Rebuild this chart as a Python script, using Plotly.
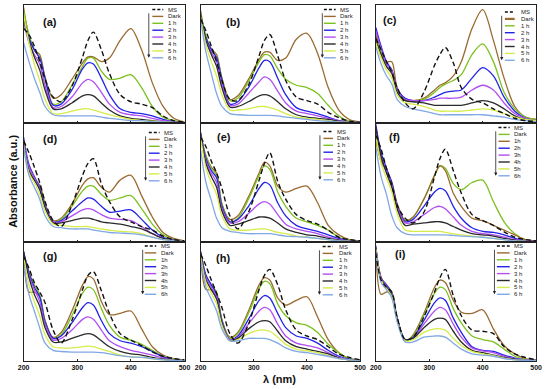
import plotly.graph_objects as go

# ---------------- data (absorbance, % of panel height) ----------------
WL = [200, 210, 220, 230, 240, 255, 270, 290, 310, 320, 330, 345, 360, 380, 400, 420, 440, 460, 480, 500]
SERIES = ["MS", "Dark", "1h", "2h", "3h", "4h", "5h", "6h"]
LABELS_SPACE = ["MS", "Dark", "1 h", "2 h", "3 h", "4 h", "5 h", "6 h"]
LABELS_NOSPACE = ["MS", "Dark", "1h", "2h", "3h", "4h", "5h", "6h"]
PANEL_NAMES = ["(a)", "(b)", "(c)", "(d)", "(e)", "(f)", "(g)", "(h)", "(i)"]
X_TICKS = [200, 300, 400, 500]

PANEL_A = {
    "MS":   [80, 75, 65, 52, 37, 22, 18, 31, 56, 70, 77, 62, 42, 24, 18, 16, 13, 6, 2, 1],
    "Dark": [98, 73, 62, 58, 39, 21, 24, 37, 51, 56, 56, 52, 55, 70, 80, 62, 34, 14, 4, 1],
    "1h":   [95, 75, 62, 55, 38, 16, 18, 32, 48, 55, 55, 44, 37, 38, 41, 30, 14, 5, 2, 1],
    "2h":   [88, 72, 62, 55, 38, 15, 16, 28, 46, 51, 50, 38, 24, 12, 9, 8, 6, 3, 1, 0.5],
    "3h":   [86, 68, 58, 50, 32, 13, 14, 22, 34, 37, 35, 26, 16, 9, 7, 6, 4, 2, 1, 0.5],
    "4h":   [90, 70, 56, 45, 28, 12, 12, 17, 23, 24, 23, 17, 11, 6, 4, 3, 2, 1, 0.5, 0],
    "5h":   [92, 68, 50, 36, 20, 8, 8, 10, 12, 12, 11, 9, 7, 5, 3, 2, 1.5, 1, 0.5, 0],
    "6h":   [68, 52, 38, 26, 14, 7, 6, 6, 6, 6, 6, 5, 4, 3, 2, 2, 1, 1, 0.5, 0],
}
PANEL_B = {
    "MS":   [88, 78, 65, 52, 36, 20, 19, 32, 57, 70, 75, 57, 36, 22, 19, 16, 9, 4.5, 1.5, 0.5],
    "Dark": [95, 72, 63, 58, 38, 20, 23, 37, 54, 60, 60, 53, 55, 71, 76, 59, 30, 11, 3, 1],
    "1h":   [92, 74, 62, 56, 38, 19, 21, 35, 52, 58, 57, 46, 37, 32, 30, 25, 15, 6, 1.5, 0.5],
    "2h":   [90, 72, 62, 55, 37, 16, 18, 30, 47, 53, 52, 38, 24, 13, 10, 8, 5, 2, 1, 0.5],
    "3h":   [88, 70, 60, 52, 33, 15, 16, 25, 35, 39, 37, 27, 17, 10, 8, 6, 4, 2, 1, 0.5],
    "4h":   [92, 70, 58, 48, 30, 13.5, 14, 18, 23, 24, 23, 18, 12, 7, 5, 4, 3, 1.5, 0.5, 0],
    "5h":   [90, 66, 52, 40, 24, 11, 11, 12, 14, 14, 13, 11, 8, 5, 4, 3, 2, 1, 0.5, 0],
    "6h":   [88, 60, 42, 25, 14, 8, 7, 6.5, 6.5, 6.5, 6.5, 6, 5, 4, 3, 2, 1.5, 1, 0.5, 0],
}
PANEL_C = {
    "MS":   [72, 62, 52, 43, 30, 17, 12, 26, 49, 58, 64, 51, 30, 20, 17, 12, 8, 4, 2, 1],
    "Dark": [75, 62, 52, 52, 30, 20, 19, 21, 28, 32, 34, 40, 52, 80, 96, 70, 38, 14, 5, 3],
    "1h":   [72, 60, 50, 45, 28, 20, 19, 20, 26, 30, 33, 36, 41, 58, 67, 52, 26, 12, 5, 3],
    "2h":   [81, 65, 52, 45, 29, 21, 19, 19, 22, 24, 26, 27, 28, 38, 47, 40, 22, 10, 4, 2],
    "3h":   [78, 63, 50, 44, 28, 20, 19, 19, 20, 21, 21, 21, 22, 28, 32, 28, 17, 8, 4, 2],
    "4h":   [70, 58, 48, 42, 26, 19, 18, 17, 15, 15, 15, 15, 15, 17, 19, 17, 12, 6, 3, 2],
    "5h":   [68, 55, 45, 38, 24, 17, 16, 14, 11, 10, 10, 10, 10, 11, 12, 11, 8, 5, 3, 2],
    "6h":   [65, 50, 40, 33, 20, 14, 12, 10, 8, 7, 7, 7, 7, 7, 7, 6, 5, 3, 2, 1],
}
PANEL_D = {
    "MS":   [85, 75, 63, 50, 34, 18, 13, 31, 56, 66, 70, 49, 34, 21, 17, 13, 10, 5, 2, 1],
    "Dark": [85, 58, 52, 48, 32, 18, 20, 32, 48, 53, 54, 46, 42, 52, 56, 39, 21, 8, 3, 1],
    "1h":   [84, 62, 54, 47, 32, 17, 19, 30, 43, 47, 47, 40, 35, 37, 39, 28, 15, 6, 2, 1],
    "2h":   [88, 65, 55, 46, 31, 17, 18, 26, 34, 37, 36, 30, 25, 26, 27, 19, 10, 4, 1.5, 0.5],
    "3h":   [86, 63, 54, 45, 30, 17, 17, 22, 27, 28, 27, 23, 20, 19, 18, 13, 7, 3, 1, 0.5],
    "4h":   [84, 60, 52, 44, 29, 16, 16, 18, 20, 20, 19, 17, 16, 15, 13, 11, 7, 3, 1, 0.5],
    "5h":   [82, 58, 50, 40, 26, 15, 14, 13, 13, 13, 12, 11, 10, 9, 8.5, 7, 4, 2, 1, 0.5],
    "6h":   [80, 56, 46, 36, 22, 13, 12, 11, 11, 11, 10, 9, 8, 7.5, 7, 6, 4, 2, 1, 0.5],
}
PANEL_E = {
    "MS":   [88, 80, 68, 58, 45, 22, 11, 25, 52, 66, 75, 51, 36, 23, 18, 15, 10, 4, 2, 1],
    "Dark": [90, 72, 63, 58, 32, 19, 22, 38, 58, 67, 64, 47, 42, 45, 47, 33, 14, 6, 2, 1],
    "1h":   [92, 72, 62, 56, 32, 17, 20, 36, 56, 64, 61, 42, 30, 20, 17, 14, 10, 4, 1.5, 0.5],
    "2h":   [92, 70, 60, 54, 30, 17, 19, 30, 45, 50, 48, 33, 22, 14, 11, 9, 6, 3, 1, 0.5],
    "3h":   [90, 68, 58, 50, 28, 16, 17, 24, 32, 34, 32, 23, 15, 11, 9, 7, 4, 2, 1, 0.5],
    "4h":   [90, 66, 55, 46, 26, 14, 15, 18, 21, 21, 20, 16, 11, 8, 6, 5, 3, 1.5, 0.5, 0],
    "5h":   [88, 62, 50, 40, 22, 11, 10, 10, 11, 11, 10, 8, 7, 5, 4, 3, 2, 1, 0.5, 0],
    "6h":   [77, 50, 35, 20, 12, 9, 8, 7, 7, 7, 7, 6, 5, 4.5, 4, 3, 2, 1, 0.5, 0],
}
PANEL_F = {
    "MS":   [90, 78, 62, 48, 31, 20, 16, 25, 55, 70, 78, 60, 41, 23, 18, 14, 8.5, 4, 2, 1],
    "Dark": [85, 68, 60, 50, 32, 18, 21, 36, 56, 64, 62, 49, 44, 50, 52, 34, 17, 7, 2, 1],
    "1h":   [88, 68, 60, 50, 32, 18, 21, 36, 56, 64, 60, 41, 30, 20, 18, 14, 10, 6, 2, 1],
    "2h":   [99, 75, 62, 50, 31, 17, 19, 30, 42, 45, 43, 30, 20, 12, 9, 8, 6, 3, 1, 0.5],
    "3h":   [95, 72, 60, 48, 30, 16, 17, 23, 29, 30, 28, 21, 14, 9, 7, 6, 4, 2, 1, 0.5],
    "4h":   [97, 72, 58, 46, 28, 14, 15, 16, 17, 17, 16, 13, 10, 7, 6, 5, 3, 1.5, 0.5, 0],
    "5h":   [90, 66, 54, 42, 24, 10, 9, 9, 9, 9, 8, 7, 6, 5, 4, 3, 2, 1, 0.5, 0],
    "6h":   [80, 55, 40, 22, 12, 7, 6, 6, 6, 6, 6, 5.5, 5, 4.5, 4, 3, 2, 1, 0.5, 0],
}
PANEL_G = {
    "MS":   [88, 78, 66, 58, 49, 26, 15, 34, 60, 72, 75, 59, 40, 23, 17.5, 13, 7.6, 4, 2, 1],
    "Dark": [92, 58, 58, 54, 34, 20, 24, 42, 64, 71, 69, 50, 39, 40, 42, 27, 12, 5, 2, 1],
    "1h":   [90, 75, 64, 56, 34, 19, 22, 38, 57, 62, 60, 44, 30, 20, 17.5, 14, 9, 4, 1.5, 0.5],
    "2h":   [92, 74, 62, 54, 33, 19, 21, 32, 45, 49, 47, 34, 23, 17, 15, 12, 8, 3.5, 1, 0.5],
    "3h":   [90, 72, 60, 50, 31, 17.5, 19, 26, 35, 37, 35, 26, 17, 12, 9, 7, 5, 2.5, 1, 0.5],
    "4h":   [92, 70, 56, 46, 28, 16, 16, 19, 22, 23, 22, 17, 12, 8, 6, 5, 3, 1.5, 0.5, 0],
    "5h":   [88, 64, 50, 38, 22, 12, 11, 11, 12, 12.5, 12, 10, 8, 5, 3.5, 3, 2, 1, 0.5, 0],
    "6h":   [82, 56, 42, 28, 15, 9, 8, 7.5, 7.5, 7.5, 7.5, 7, 6, 4.5, 3.5, 3, 2, 1, 0.5, 0],
}
PANEL_H = {
    "MS":   [90, 80, 68, 57, 45, 23, 15, 31, 60, 72, 77, 64, 43, 26, 21, 18, 12, 5.7, 3, 1],
    "Dark": [92, 60, 60, 56, 34, 20, 24, 42, 64, 70, 68, 53, 47, 51, 54, 37, 18, 7, 2, 1],
    "1h":   [90, 72, 64, 58, 35, 19, 23, 40, 61, 67, 65, 48, 38, 32, 30, 24, 14, 7, 2, 1],
    "2h":   [92, 72, 64, 56, 34, 18, 21, 35, 51, 55, 53, 40, 28, 21, 19, 15, 9, 4, 1.5, 0.5],
    "3h":   [90, 70, 62, 54, 33, 18, 20, 31, 42, 45, 43, 31, 21, 15, 13, 11, 7, 3, 1, 0.5],
    "4h":   [90, 68, 60, 52, 32, 17, 19, 27, 33, 34, 33, 25, 17, 12, 10, 8, 6, 2.5, 1, 0.5],
    "5h":   [88, 66, 57, 48, 30, 17, 18, 23, 26, 26, 25, 20, 14, 10, 8.5, 7, 4.5, 2, 1, 0.5],
    "6h":   [85, 62, 52, 42, 27, 17, 17, 19, 19, 19, 18, 15, 11, 8, 7, 5.5, 4, 2, 1, 0.5],
}
PANEL_I = {
    "MS":   [91, 68, 62, 58, 37, 18, 20, 37, 58, 70, 77, 55, 38, 26, 25, 23, 12, 6, 3, 1],
    "Dark": [95, 56, 58, 57, 36, 17, 22, 40, 62, 68, 66, 51, 41, 40, 43, 27, 13, 6, 2, 1],
    "1h":   [96, 70, 64, 58, 36, 18, 21, 38, 57, 62, 60, 44, 32, 21, 18, 16, 10, 4, 1.5, 0.5],
    "2h":   [97, 70, 64, 57, 36, 18, 20, 34, 49, 53, 51, 36, 24, 12, 9, 8, 5, 2.5, 1, 0.5],
    "3h":   [96, 70, 63, 56, 35, 18, 19, 31, 42, 45, 43, 31, 20, 11, 8.5, 7, 4, 2, 1, 0.5],
    "4h":   [95, 69, 62, 55, 35, 18, 19, 28, 35, 36, 35, 25, 16, 9, 7, 5, 3, 1.5, 0.5, 0],
    "5h":   [94, 68, 61, 54, 34, 17, 18, 24, 27, 27, 26, 19, 13, 8, 6, 4.5, 2.5, 1, 0.5, 0],
    "6h":   [92, 66, 60, 53, 33, 16, 16, 20, 21, 21, 20, 15, 10, 6, 5, 4, 2, 1, 0.5, 0],
}
PANELS = [PANEL_A, PANEL_B, PANEL_C, PANEL_D, PANEL_E, PANEL_F, PANEL_G, PANEL_H, PANEL_I]
PANEL_LABELS = [LABELS_SPACE, LABELS_SPACE, LABELS_SPACE, LABELS_SPACE, LABELS_SPACE,
                LABELS_NOSPACE, LABELS_NOSPACE, LABELS_SPACE, LABELS_SPACE]

# ---------------- styles ----------------
W, H = 550, 389
FONT = "Liberation Sans, Arial, sans-serif"
COLORS = {"MS": "#111111", "Dark": "#9a6a30", "1h": "#7cc11f", "2h": "#2323e6",
          "3h": "#b24df2", "4h": "#2a2a2a", "5h": "#d6ec4a", "6h": "#80a8e4"}
COLORS_F = dict(COLORS, Dark="#7cc11f")
COLORS_F["1h"] = "#9a6a30"
MS_DASH = "5px,3px"

COL_LEFT = [18, 199, 378]
COL_W = [164.5, 163, 164]
ROW_TOP = [5, 123, 242]
ROW_H = [118, 119, 119]

# legend geometry per panel: (arrow x, sample x0, sample x1, text x, top px)
LEG = [
    (0.778, 0.800, 0.868, 0.884, 4.5),
    (0.763, 0.773, 0.847, 0.859, 4.5),
    (0.785, 0.805, 0.866, 0.890, 7.0),
    (0.758, 0.778, 0.845, 0.863, 9.5),
    (0.748, 0.770, 0.830, 0.845, 8.5),
    (0.748, 0.765, 0.835, 0.850, 4.5),
    (0.740, 0.753, 0.824, 0.843, 4.0),
    (0.745, 0.765, 0.830, 0.855, 4.5),
    (0.740, 0.755, 0.835, 0.850, 4.0),
]
LABEL_POS = [(27, 17), (33, 17), (15, 15), (27, 16), (24, 14), (19, 14), (27, 14), (23, 16), (25, 12)]
STEP = 6.9

fig = go.Figure()
layout = dict(width=W, height=H, margin=dict(l=0, r=0, t=0, b=0),
              paper_bgcolor="white", plot_bgcolor="white", showlegend=False,
              font=dict(family=FONT, color="#111"))
shapes, annotations = [], []

for k in range(9):
    r, c = divmod(k, 3)
    n = k + 1
    xs = "" if n == 1 else str(n)
    x0 = COL_LEFT[c] / W
    x1 = (COL_LEFT[c] + COL_W[c]) / W
    y1 = 1 - ROW_TOP[r] / H
    y0 = 1 - (ROW_TOP[r] + ROW_H[r]) / H
    colors = COLORS_F if k == 5 else COLORS
    data = PANELS[k]
    order = SERIES[1:] + ["MS"]
    for s in order:
        is_ms = s == "MS"
        fig.add_trace(go.Scatter(
            x=WL, y=data[s], mode="lines", xaxis="x" + xs, yaxis="y" + xs,
            line=dict(color=colors[s], width=1.3 if not is_ms else 1.4,
                      dash=MS_DASH if is_ms else "solid", shape="spline", smoothing=0.9),
            hoverinfo="skip"))
    layout["xaxis" + xs] = dict(domain=[x0, x1], range=[200, 500], anchor="y" + xs,
                                showline=True, mirror=True, linecolor="#222", linewidth=1,
                                showgrid=False, zeroline=False, tickvals=X_TICKS,
                                ticks="inside", ticklen=2, tickcolor="#222",
                                showticklabels=(r == 2),
                                tickfont=dict(size=7, family=FONT, color="#111", weight="bold"))
    layout["yaxis" + xs] = dict(domain=[y0, y1], range=[0, 100], anchor="x" + xs,
                                showline=True, mirror=True, linecolor="#222", linewidth=1,
                                showgrid=False, zeroline=False, showticklabels=False, ticks="")
    xr, yr = "x" + xs + " domain", "y" + xs + " domain"
    # panel label
    lx, ly = LABEL_POS[k]
    annotations.append(dict(x=lx / COL_W[c], y=1 - ly / ROW_H[r], xref=xr, yref=yr,
                            text="<b>" + PANEL_NAMES[k] + "</b>", showarrow=False,
                            xanchor="center", yanchor="middle",
                            font=dict(size=11, family=FONT, color="#111")))
    # legend
    ax_, s0, s1, tx, top = LEG[k]
    labels = PANEL_LABELS[k]
    for i, s in enumerate(SERIES):
        yy = 1 - (top + i * STEP) / ROW_H[r]
        shapes.append(dict(type="line", xref=xr, yref=yr, x0=s0, x1=s1, y0=yy, y1=yy,
                           line=dict(color=colors[s], width=(2.2 if (k == 2 and s == "Dark") else 1.4),
                                     dash="3px,2px" if s == "MS" else "solid")))
        annotations.append(dict(x=tx, y=yy, xref=xr, yref=yr, text=labels[i], showarrow=False,
                                xanchor="left", yanchor="middle",
                                font=dict(size=6, family=FONT, color="#222")))
    ytip = 1 - (top + 7 * STEP) / ROW_H[r]
    annotations.append(dict(x=ax_, y=ytip, xref=xr, yref=yr, text="", showarrow=True,
                            ax=0, ay=-46, arrowhead=2, arrowsize=0.8, arrowwidth=0.8,
                            arrowcolor="#222"))

annotations.append(dict(x=7 / W, y=1 - 181 / H, xref="paper", yref="paper",
                        text="<b>Absorbance (a.u.)</b>", textangle=-90, showarrow=False,
                        xanchor="center", yanchor="middle",
                        font=dict(size=11, family=FONT, color="#111")))
annotations.append(dict(x=280 / W, y=1 - 379 / H, xref="paper", yref="paper",
                        text="<b>λ (nm)</b>", showarrow=False,
                        xanchor="center", yanchor="middle",
                        font=dict(size=11, family=FONT, color="#111")))

layout["shapes"] = shapes
layout["annotations"] = annotations
fig.update_layout(**layout)
fig.write_html("out.html", config={"displayModeBar": False},
               post_script="document.documentElement.style.margin='0';"
                           "document.body.style.margin='0';"
                           "document.body.style.overflow='hidden';")
